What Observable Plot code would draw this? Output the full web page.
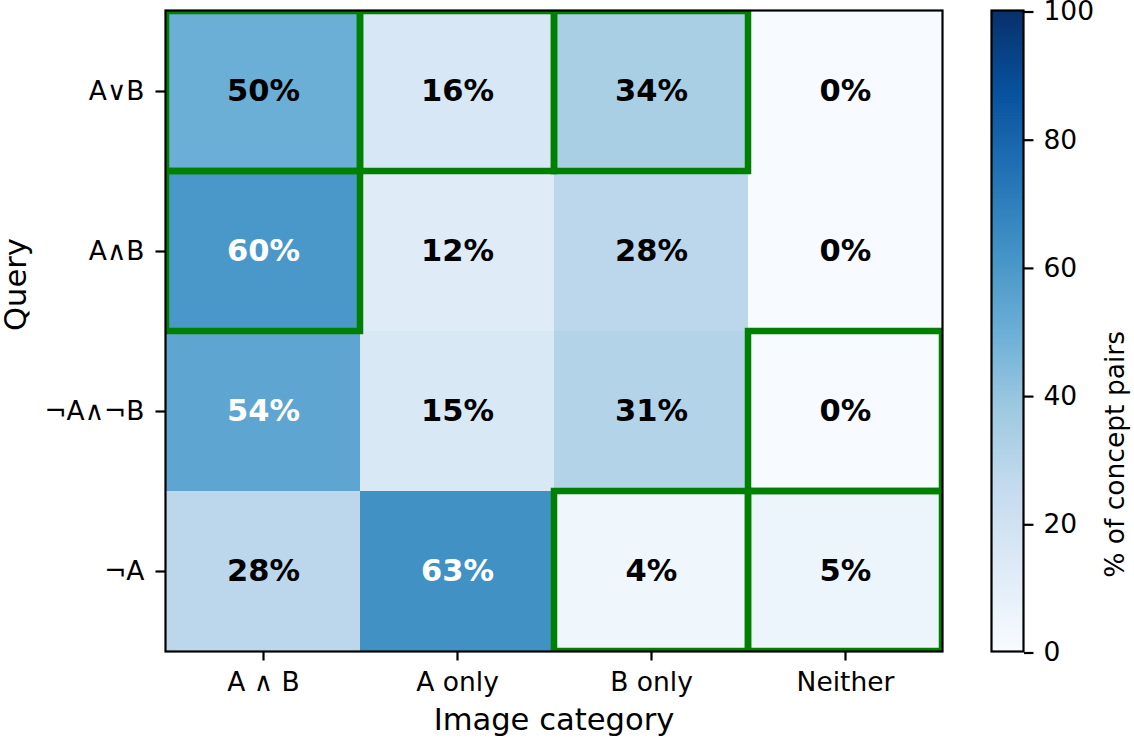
<!DOCTYPE html>
<html><head><meta charset="utf-8">
<script src="https://cdn.jsdelivr.net/npm/d3@7"></script>
<script src="https://cdn.jsdelivr.net/npm/@observablehq/plot@0.6"></script>
<style>
html,body{margin:0;padding:0;background:#fff;}
#wrap{position:relative;width:1134px;height:738px;overflow:hidden;}
#main{position:absolute;left:0;top:0;}
#cbar{position:absolute;left:960px;top:0;}
</style></head><body><div id="wrap"><div id="main"></div><div id="cbar"></div></div>
<script>
const categories = ["A ∧ B", "A only", "B only", "Neither"];
const queries = ["A∨B", "A∧B", "¬A∧¬B", "¬A"];
const rowAvB = [50, 16, 34, 0];
const rowAandB = [60, 12, 28, 0];
const rowNotANotB = [54, 15, 31, 0];
const rowNotA = [28, 63, 4, 5];
const values = [rowAvB, rowAandB, rowNotANotB, rowNotA];
const highlighted = [
  ["A∨B", "A ∧ B"], ["A∨B", "A only"], ["A∨B", "B only"],
  ["A∧B", "A ∧ B"],
  ["¬A∧¬B", "Neither"],
  ["¬A", "B only"], ["¬A", "Neither"]
];
const colorbarTicks = [0, 20, 40, 60, 80, 100];
const bluesStops = ["#f7fbff","#deebf7","#c6dbef","#9ecae1","#6baed6","#4292c6","#2171b5","#08519c","#08306b"];

const cells = queries.flatMap((q, i) => categories.map((c, j) => ({query: q, category: c, value: values[i][j]})));
const hl = highlighted.map(([q, c]) => ({query: q, category: c}));
const interp = d3.piecewise(d3.interpolateRgb, bluesStops);
const font = "DejaVu Sans";

const main = Plot.plot({
  width: 960, height: 738,
  marginLeft: 165, marginTop: 10, marginRight: 18, marginBottom: 87,
  style: {fontFamily: font, fontSize: "26.5px", background: "white", color: "black", overflow: "visible"},
  x: {domain: categories, padding: 0, axis: null},
  y: {domain: queries, padding: 0, axis: null},
  color: {type: "linear", domain: [0, 100], interpolate: interp},
  marks: [
    Plot.cell(cells, {x: "category", y: "query", fill: "value", inset: 0}),
    Plot.cell(hl, {x: "category", y: "query", fill: "none", stroke: "green", strokeWidth: 6.5, clip: true}),
    Plot.text(cells.filter(d => d.value <= 50), {x: "category", y: "query", text: d => d.value + "%", fill: "black", fontWeight: "bold", fontSize: 30.5, dy: -0.6}),
    Plot.text(cells.filter(d => d.value > 50), {x: "category", y: "query", text: d => d.value + "%", fill: "white", fontWeight: "bold", fontSize: 30.5, dy: -0.6}),
    Plot.frame({stroke: "black", strokeWidth: 2.2}),
    Plot.axisX({anchor: "bottom", tickSize: 9.5, tickPadding: 11.5, strokeWidth: 2.2, label: null, fontSize: 26.5}),
    Plot.axisY({anchor: "left", tickSize: 9.5, tickPadding: 11.5, strokeWidth: 2.2, label: null, fontSize: 26.5}),
    Plot.text(["Image category"], {frameAnchor: "bottom", dy: 57, lineAnchor: "top", fontSize: 30.6, fill: "black"}),
    Plot.text(["Query"], {frameAnchor: "left", dx: -161, rotate: -90, lineAnchor: "top", fontSize: 30.6, fill: "black"})
  ]
});
document.getElementById("main").appendChild(main);

const step = 0.5;
const ramp = d3.range(0, 100, step);
const cbar = Plot.plot({
  width: 174, height: 738,
  marginLeft: 31, marginRight: 111, marginTop: 10, marginBottom: 87,
  style: {fontFamily: font, fontSize: "26.5px", background: "white", color: "black", overflow: "visible"},
  x: {domain: [0, 1], axis: null},
  y: {domain: [0, 100], axis: null},
  color: {type: "linear", domain: [0, 100], interpolate: interp},
  marks: [
    Plot.rect(ramp, {x1: 0, x2: 1, y1: d => d, y2: d => Math.min(100, d + step * 1.5), fill: d => d + step / 2}),
    Plot.frame({stroke: "black", strokeWidth: 2.2}),
    Plot.axisY({anchor: "right", ticks: colorbarTicks, tickSize: 9.5, tickPadding: 10.5, strokeWidth: 2.2, label: null, fontSize: 26.5, textStroke: "none", dy: 1.5}),
    Plot.text(["% of concept pairs"], {frameAnchor: "right", dx: 82, rotate: -90, lineAnchor: "top", fontSize: 26.5, fill: "black"})
  ]
});
document.getElementById("cbar").appendChild(cbar);
</script></body></html>
